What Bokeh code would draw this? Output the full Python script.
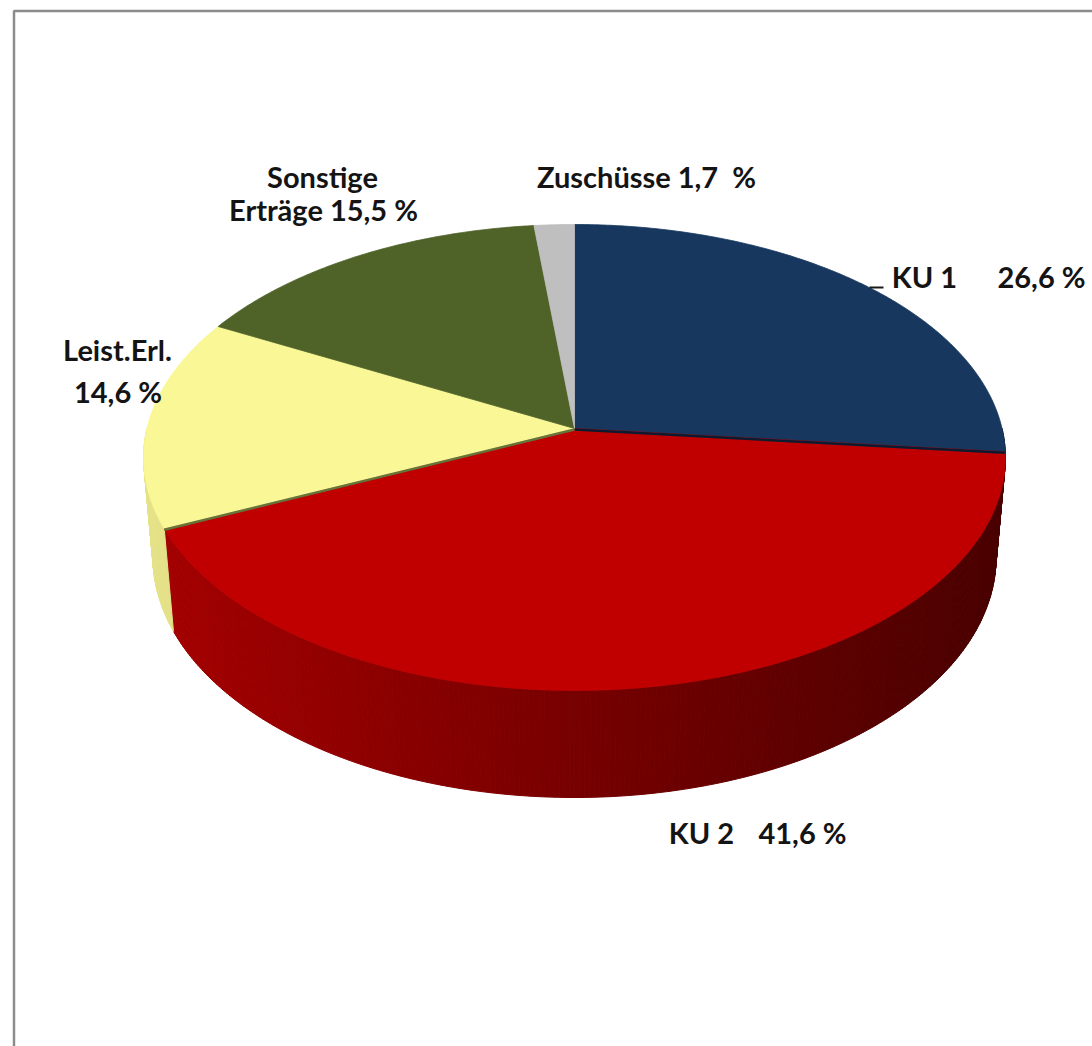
import numpy as np
from bokeh.plotting import figure
from bokeh.models import Range1d
from bokeh.embed import file_html
from bokeh.resources import INLINE
from bokeh.core.properties import value

# ---- data (clockwise from 12 o'clock) ----
categories = ["KU 1", "KU 2", "Leist.Erl.", "Sonstige Erträge", "Zuschüsse"]
shares = [26.6, 41.6, 14.6, 15.5, 1.7]
slice_colors = ["#17375E", "#C00000", "#FAF796", "#4F6228", "#BFBFBF"]
side_strength = [1.0, 1.0, 0.6, 1.0, 0.6]

# labels (text pieces, centred)
label_texts = ["Sonstige", "Erträge 15,5 %", "Zuschüsse 1,7\u00a0 %", "KU 1", "26,6 %",
               "Leist.Erl.", "14,6 %", "KU 2", "41,6 %"]
label_x = [322, 323, 646, 924, 1041, 117, 117.5, 701, 802]
label_y = [176, 209, 176, 276, 276, 349, 391, 832, 832]

# ---- perspective geometry of the 3D pie ----
CX, CY = 574.0, 428.0
SIN_T, COS_T = 0.5322, 0.8464
DIST, FOC, DEPTH = 6.804, 2932.5, 0.279
KX = 0.992

W, H = 1092, 1046


def proj(X, Y, Z):
    v = Z * SIN_T - Y * COS_T
    w = Z * COS_T + Y * SIN_T
    return CX + KX * FOC * X / (DIST - w), CY + FOC * v / (DIST - w)


def rim(a_deg, Y=0.0):
    a = np.radians(a_deg)
    return proj(np.sin(a), Y, -np.cos(a))


def hex2rgb(h):
    h = h.lstrip("#")
    return [int(h[i:i + 2], 16) for i in (0, 2, 4)]


def rgb2hex(c):
    return "#%02x%02x%02x" % tuple(int(max(0, min(255, round(v)))) for v in c)


total = sum(shares)
bounds = np.concatenate([[0.0], np.cumsum(shares)]) / total * 360.0

p = figure(width=W, height=H, output_backend="svg", toolbar_location=None,
           x_range=Range1d(0, W), y_range=Range1d(H, 0), min_border=0)
p.axis.visible = False
p.grid.visible = False
p.outline_line_color = None
p.background_fill_color = "white"

# frame of the original chart area (only left/top edge visible)
p.line([13.5, 13.5, 1200], [1200, 10.5, 10.5], line_color="#8c8c8c", line_width=2.5)

# ---- side walls (front half only) ----
xmin, xmax = CX - 431, CX + 433
sx_list, sy_list, scol = [], [], []
for i in range(len(shares)):
    a0, a1 = max(bounds[i], 90.0), min(bounds[i + 1], 270.0)
    if a1 <= a0:
        continue
    n = max(2, int((a1 - a0) / 0.6))
    th = np.linspace(a0, a1, n + 1)
    base = hex2rgb(slice_colors[i])
    for k in range(n):
        pts = [rim(th[k]), rim(th[k + 1]), rim(th[k + 1], -DEPTH), rim(th[k], -DEPTH)]
        xs = [q[0] for q in pts]
        ys = [q[1] for q in pts]
        t = ((xs[0] + xs[1]) / 2 - xmin) / (xmax - xmin)
        fac = 1 - (1 - (0.86 - 0.48 * t)) * side_strength[i]
        sx_list.append(xs)
        sy_list.append(ys)
        scol.append(rgb2hex([c * fac for c in base]))
p.patches(sx_list, sy_list, fill_color=scol, line_color=scol, line_width=1)

# ---- top faces ----
tx, ty = [], []
for i in range(len(shares)):
    n = max(4, int((bounds[i + 1] - bounds[i]) / 0.5))
    th = np.linspace(bounds[i], bounds[i + 1], n + 1)
    pts = [proj(0, 0, 0)] + [rim(a) for a in th]
    tx.append([q[0] for q in pts])
    ty.append([q[1] for q in pts])
p.patches(tx, ty, fill_color=slice_colors, line_color=slice_colors, line_width=0.8)

# thin seams along the KU 2 slice edges
c0 = proj(0, 0, 0)
e1 = rim(bounds[1])
e2 = rim(bounds[2])
p.line([c0[0], e1[0]], [c0[1] + 1, e1[1] + 1], line_color="#0c1b30", line_width=2.5)
p.line([c0[0], e2[0]], [c0[1] + 1, e2[1] + 1], line_color="#66733a", line_width=2.5)

# leader stub for KU 1
p.line([869, 883], [287, 287], line_color="#1a1a1a", line_width=2)

p.text(x=label_x, y=label_y, text=label_texts, text_font=value("Lato"),
       text_font_style="bold", text_font_size="29px", text_color="#141414",
       text_align="center", text_baseline="alphabetic")

open("out.html", "w").write(file_html(p, INLINE))
